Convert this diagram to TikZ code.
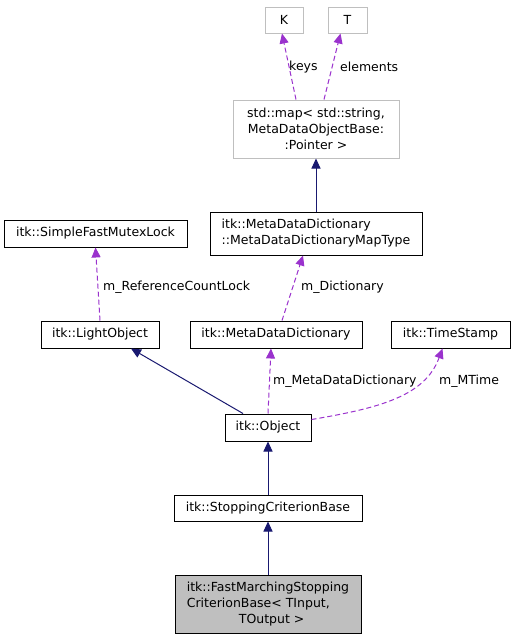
\documentclass[tikz,border=0pt]{standalone}
\usepackage{fontspec}
\setmainfont{DejaVu Sans}
\usetikzlibrary{positioning,arrows.meta}
\definecolor{memberpurple}{HTML}{9A32CD}
\definecolor{basenavy}{HTML}{191970}
\definecolor{extgray}{HTML}{BFBFBF}

\begin{document}
\begin{tikzpicture}[x=1pt, y=-1pt, font=\fontsize{12.5}{16}\selectfont,
    cls/.style={draw=black, line width=1pt, inner sep=0pt, align=center},
    ext/.style={cls, draw=extgray},
    inherit/.style={-{Triangle[length=10pt,width=9pt]}, basenavy, line width=1pt},
    member/.style={-{Triangle[length=10pt,width=9pt]}, memberpurple, line width=1pt, dash pattern=on 5pt off 3pt},
    lbl/.style={anchor=west, inner sep=0pt}]
  \useasboundingbox (0,0) rectangle (515,640);

  % template arguments and the map
  \node[ext, minimum width=38pt, minimum height=26pt] at (284, 20) (k) {K};
  \node[ext, minimum width=39pt, minimum height=26pt] at (347.5, 20) (t) {T};
  \node[ext, minimum width=166pt, minimum height=58pt] at (316, 129) (map) {std::map< std::string,\\ MetaDataObjectBase:\\:Pointer >};

  \node[cls, align=left, minimum width=212pt, minimum height=43pt] at (316, 233.5) (maptype) {itk::MetaDataDictionary\\::MetaDataDictionaryMapType};
  \node[cls, minimum width=183pt, minimum height=27pt] at (95.5, 233.5) (mutex) {itk::SimpleFastMutexLock};

  \node[cls, minimum width=118pt, minimum height=27pt] at (100, 334.5) (light) {itk::LightObject};
  \node[cls, minimum width=172pt, minimum height=27pt] at (276, 334.5) (dict) {itk::MetaDataDictionary};
  \node[cls, minimum width=119pt, minimum height=27pt] at (450.5, 334.5) (stamp) {itk::TimeStamp};

  \node[cls, minimum width=86pt, minimum height=27pt] at (268, 427.5) (object) {itk::Object};
  \node[cls, minimum width=188pt, minimum height=26pt] at (268, 508) (stopbase) {itk::StoppingCriterionBase};
  \node[cls, fill=extgray, align=left, minimum width=186pt, minimum height=58pt] at (268, 604) (fastmarch) {itk::FastMarchingStopping\\CriterionBase< TInput,\\\hspace*{52pt}TOutput >};

  \draw[member] ([xshift=-20pt]map.north) -- ([xshift=-2pt]k.south);
  \draw[member] ([xshift=8pt]map.north) -- ([xshift=-7pt]t.south);
  \draw[inherit] (maptype.north) -- (map.south);
  \draw[member] (light.north) -- (mutex.south);
  \draw[member] ([xshift=6pt]dict.north) -- ([xshift=-13pt]maptype.south);
  \draw[inherit] ([xshift=-25pt]object.north) -- ([xshift=31pt]light.south);
  \draw[member] (object.north) -- ([xshift=-5pt]dict.south);
  \draw[member] ([yshift=8pt]object.east) .. controls (380, 408) and (425, 396) .. ([xshift=-8pt]stamp.south);
  \draw[inherit] (stopbase.north) -- (object.south);
  \draw[inherit] (fastmarch.north) -- (stopbase.south);

  \node[lbl] at (289, 66.7) (lkeys) {keys};
  \node[lbl] at (340, 66.7) (lelem) {elements};
  \node[lbl] at (103, 287) (llock) {m\_ReferenceCountLock};
  \node[lbl] at (301, 287) (ldict) {m\_Dictionary};
  \node[lbl] at (273, 381) (lmeta) {m\_MetaDataDictionary};
  \node[lbl] at (439, 381) (ltime) {m\_MTime};

\end{tikzpicture}
\end{document}
